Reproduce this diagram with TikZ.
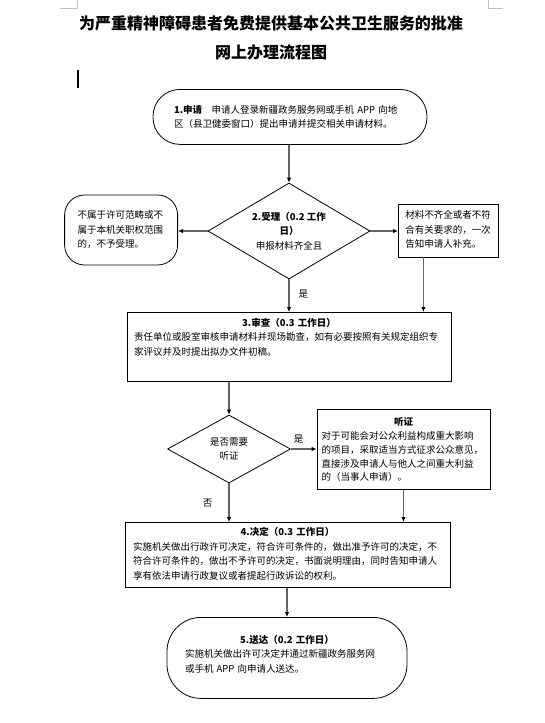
\documentclass[tikz,border=0pt]{standalone}
\usepackage{fontspec}
\setmainfont{Noto Sans CJK SC}
\usetikzlibrary{arrows.meta, positioning, shapes.geometric}

% bold head line, centred over the box text
\newcommand\boxhead[1]{\makebox[\linewidth]{\bfseries #1}\\}

\begin{document}
\begin{tikzpicture}[x=1pt, y=-1pt,
  every node/.style={font=\fontsize{9.5}{14.5}\selectfont},
  stepbox/.style={draw=black, line width=0.8pt, inner ysep=0pt, align=left},
  roundbox/.style={stepbox, rounded corners=#1},
  choice/.style={draw=black, line width=0.8pt, diamond, inner sep=0pt, align=center},
  link/.style={draw=black!60, line width=1.1pt, -{Latex[length=5pt, width=4.5pt, color=black]}},
  tag/.style={inner sep=1pt}
]

% page
\fill[white] (0,0) rectangle (545,723);
\useasboundingbox (0,0) rectangle (545,723);
\draw[black!25, line width=0.6pt] (60,8) -- (77,8) -- (77,0);
\draw[black!25, line width=0.6pt] (488,0) -- (488,8) -- (503,8);
\draw[line width=1.5pt] (78,70) -- (78,88);

% --- titulo ---
\node[font=\fontsize{16}{20}\selectfont\bfseries] (title1) at (271,23)
    {为严重精神障碍患者免费提供基本公共卫生服务的批准};
\node[font=\fontsize{16}{20}\selectfont\bfseries] (title2) at (271,52)
    {网上办理流程图};

% --- 1. 申请 ---
\node[roundbox=27pt, text width=232pt, inner xsep=21pt, text height=23.6pt, text depth=31.4pt, anchor=north] (apply) at (290,89)
    {\textbf{1.申请}\quad 申请人登录新疆政务服务网或手机 APP 向地\\区（县卫健委窗口）提出申请并提交相关申请材料。};

% --- 2. 受理 ---
\node[choice, shape aspect=1.7, minimum width=162pt, minimum height=96pt] (accept) at (289,231)
    {\textbf{2.受理（0.2 工作}\\\textbf{日）}\\申报材料齐全且};
\node[roundbox=20pt, text width=87pt, inner xsep=13pt, text height=23.6pt, text depth=46.4pt, anchor=east] (reject) at (178,230)
    {不属于许可范畴或不\\属于本机关职权范围\\的，不予受理。};
\node[stepbox, text width=86pt, inner xsep=7pt, text height=14.6pt, text depth=38.4pt, anchor=west] (supplement) at (398,230.5)
    {材料不齐全或者不符\\合有关要求的，一次\\告知申请人补充。};

% --- 3. 审查 ---
\node[stepbox, text width=310pt, inner xsep=7pt, text height=13.6pt, text depth=55.4pt, anchor=north] (review) at (289,312)
    {\boxhead{3.审查（0.3 工作日）}责任单位或股室审核申请材料并现场勘查，如有必要按照有关规定组织专\\家评议并及时提出拟办文件初稿。};

% --- 听证 ---
\node[choice, shape aspect=1.8, minimum width=123pt, minimum height=68pt] (hearq) at (229,449)
    {是否需要\\听证};
\node[stepbox, font=\fontsize{9.5}{13.8}\selectfont, text width=164pt, inner xsep=4.5pt, text height=16.3pt, text depth=63.7pt, anchor=north] (hearing) at (403.5,409)
    {\boxhead{听证}对于可能会对公众利益构成重大影响\\的项目，采取适当方式征求公众意见，\\直接涉及申请人与他人之间重大利益\\的（当事人申请）。};

% --- 4. 决定 ---
\node[stepbox, text width=309pt, inner xsep=8pt, text height=13.3pt, text depth=51.7pt, anchor=north] (decide) at (287.5,522)
    {\boxhead{4.决定（0.3 工作日）}实施机关做出行政许可决定，符合许可条件的，做出准予许可的决定，不\\符合许可条件的，做出不予许可的决定，书面说明理由，同时告知申请人\\享有依法申请行政复议或者提起行政诉讼的权利。};

% --- 5. 送达 ---
\node[roundbox=34pt, text width=204pt, inner xsep=18pt, text height=25.9pt, text depth=55.1pt, anchor=north] (deliver) at (287,617)
    {\boxhead{5.送达（0.2 工作日）}实施机关做出许可决定并通过新疆政务服务网\\或手机 APP 向申请人送达。};

% --- flechas ---
\draw[link] (accept.north |- apply.south) -- (accept.north);
\draw[link] (accept.west) -- (accept.west -| reject.east);
\draw[link] (accept.east) -- (accept.east -| supplement.west);
\draw[link] (accept.south) -- (accept.south |- review.north) node[tag, pos=0.45, right=8pt] {是};
\draw[link] ([xshift=-25pt]supplement.south) -- ([xshift=-25pt]supplement.south |- review.north);
\draw[link] (hearq.north |- review.south) -- (hearq.north);
\draw[link] (hearq.east) -- (hearq.east -| hearing.west) node[tag, pos=0.3, above=4pt] {是};
\draw[link] (hearq.south) -- (hearq.south |- decide.north) node[tag, midway, left=15pt] {否};
\draw[link] (hearing.south) -- (hearing.south |- decide.north);
\draw[link] (deliver.north |- decide.south) -- (deliver.north);

\end{tikzpicture}
\end{document}
